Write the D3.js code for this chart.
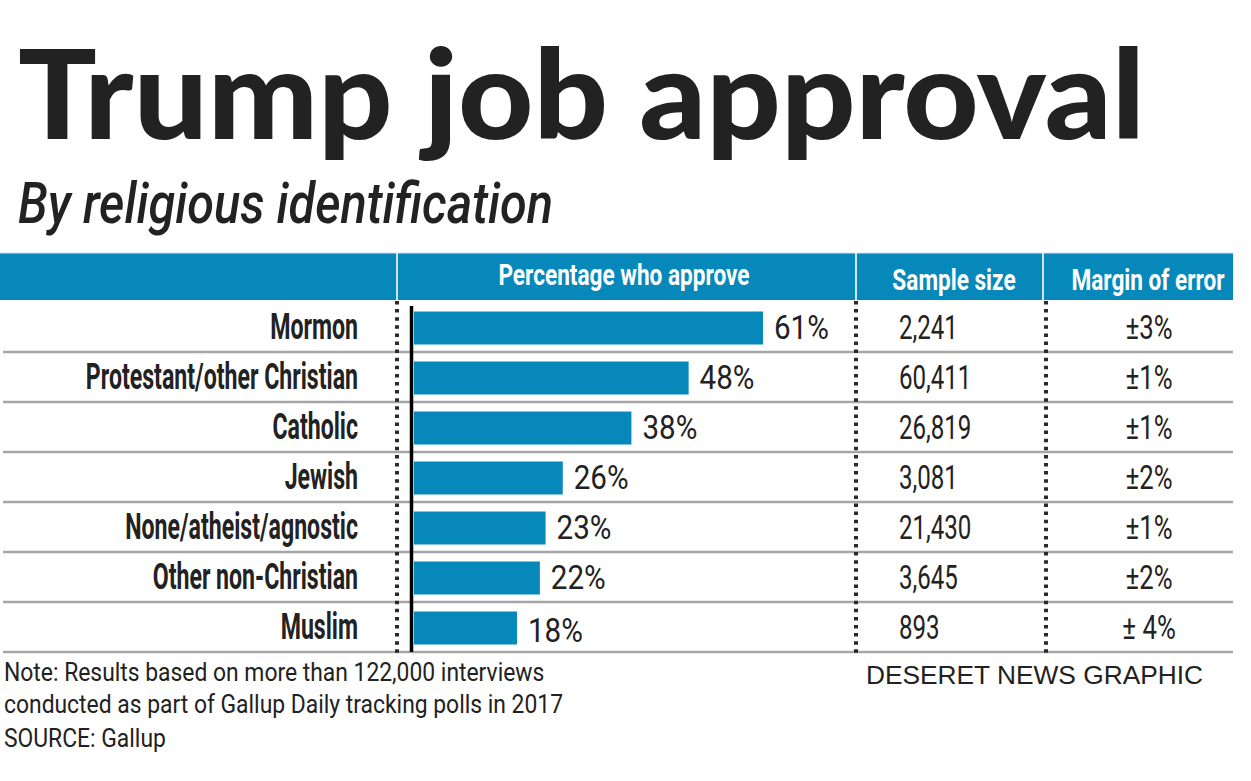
<!DOCTYPE html>
<html><head><meta charset="utf-8">
<script src="https://cdn.jsdelivr.net/npm/d3@7"></script>
<style>body{margin:0;background:#fff}svg{display:block}</style>
</head><body>
<svg id="c" width="1251" height="781"></svg>
<script>
const categories = ["Mormon","Protestant/other Christian","Catholic","Jewish","None/atheist/agnostic","Other non-Christian","Muslim"];
const approve = [61,48,38,26,23,22,18];
const sampleSize = ["2,241","60,411","26,819","3,081","21,430","3,645","893"];
const marginErr = ["±3%","±1%","±1%","±2%","±1%","±2%","± 4%"];
const headers = ["Percentage who approve","Sample size","Margin of error"];
const title = "Trump job approval";
const subtitle = "By religious identification";
const notes = ["Note: Results based on more than 122,000 interviews","conducted as part of Gallup Daily tracking polls in 2017","SOURCE: Gallup"];
const credit = "DESERET NEWS GRAPHIC";

const BLUE="#0688bb", INK="#222";
const svg=d3.select("#c");
const COND="Roboto, 'Liberation Sans', sans-serif";

function condense(sel, sx){
  sel.each(function(){
    const t=d3.select(this);
    const x=+t.attr("x"), y=+t.attr("y");
    t.attr("x",0).attr("y",0).attr("transform",`translate(${x},${y}) scale(${sx},1)`);
  });
}

// title
svg.append("text").attr("x",18).attr("y",139).attr("font-family","Lato, 'Open Sans', sans-serif")
  .attr("font-weight",900).attr("font-size",124).attr("fill",INK)
  .attr("textLength",1127).attr("lengthAdjust","spacingAndGlyphs").text(title);
svg.append("text").attr("x",18).attr("y",223).attr("font-family",COND)
  .attr("font-style","italic").attr("font-weight",500).attr("font-size",57).attr("fill",INK)
  .attr("textLength",535).attr("lengthAdjust","spacingAndGlyphs").text(subtitle);

// columns
const colX=[0,397,856,1044,1233];
const headTop=253, headBot=300;
svg.append("rect").attr("x",colX[0]).attr("y",headTop).attr("width",colX[4]-colX[0]).attr("height",headBot-headTop).attr("fill",BLUE);
svg.selectAll("line.hsep").data([colX[1],colX[2],colX[3]-1]).join("line").attr("class","hsep")
  .attr("x1",d=>d).attr("x2",d=>d).attr("y1",headTop).attr("y2",headBot).attr("stroke","#cfe6f0").attr("stroke-width",2);
svg.append("line").attr("x1",0).attr("x2",colX[4]).attr("y1",headTop).attr("y2",headTop).attr("stroke","#cfe6f0").attr("stroke-width",1);

const headCx=[624,954,1148];
const ht=svg.selectAll("text.head").data(headers).join("text").attr("class","head")
  .attr("x",(d,i)=>headCx[i]).attr("y",(d,i)=>i===0?285:290)
  .attr("text-anchor","middle").attr("font-family",COND).attr("font-weight",700)
  .attr("font-size",29).attr("fill","#fff").text(d=>d);
condense(ht,0.78);

// rows
const y=d3.scaleBand().domain(categories).range([302,652]).paddingInner(0).paddingOuter(0);
const rowH=y.bandwidth();
const x=d3.scaleLinear().domain([0,61]).range([414,763]);

svg.selectAll("line.row").data(categories).join("line").attr("class","row")
  .attr("x1",3).attr("x2",colX[4]).attr("y1",d=>y(d)+rowH).attr("y2",d=>y(d)+rowH)
  .attr("stroke","#a6a6a6").attr("stroke-width",2.5);

svg.selectAll("line.dot").data([colX[1],colX[2],colX[3]+2]).join("line").attr("class","dot")
  .attr("x1",d=>d).attr("x2",d=>d).attr("y1",headBot+1).attr("y2",655)
  .attr("stroke","#2a2a2a").attr("stroke-width",4).attr("stroke-dasharray","3.5,4.6");

const barH=33, barOff=9.5;
svg.selectAll("rect.bar").data(approve).join("rect").attr("class","bar")
  .attr("x",x(0)).attr("y",(d,i)=>y(categories[i])+barOff)
  .attr("width",d=>x(d)-x(0)).attr("height",barH).attr("fill",BLUE);

svg.append("line").attr("x1",411.5).attr("x2",411.5).attr("y1",306).attr("y2",652)
  .attr("stroke","#000").attr("stroke-width",3.5);

const lab=svg.selectAll("text.lab").data(categories).join("text").attr("class","lab")
  .attr("x",358).attr("y",d=>y(d)+37).attr("text-anchor","end")
  .attr("font-family",COND).attr("font-weight",700).attr("font-size",37).attr("fill",INK).text(d=>d);
condense(lab,0.625);

const val=svg.selectAll("text.val").data(approve).join("text").attr("class","val")
  .attr("x",d=>x(d)+11).attr("y",(d,i)=>y(categories[i])+37+ (i==6?3:0))
  .attr("font-family",COND).attr("font-size",34).attr("fill",INK).text(d=>d+"%");
condense(val,0.87);

const ss=svg.selectAll("text.ss").data(sampleSize).join("text").attr("class","ss")
  .attr("x",899).attr("y",(d,i)=>y(categories[i])+37)
  .attr("font-family",COND).attr("font-size",33).attr("fill",INK).text(d=>d);
condense(ss,0.73);

const me=svg.selectAll("text.me").data(marginErr).join("text").attr("class","me")
  .attr("x",1149).attr("y",(d,i)=>y(categories[i])+37).attr("text-anchor","middle")
  .attr("font-family",COND).attr("font-size",33).attr("fill",INK).text(d=>d);
condense(me,0.78);

const nt=svg.selectAll("text.note").data(notes).join("text").attr("class","note")
  .attr("x",4).attr("y",(d,i)=>[681,713,747][i])
  .attr("font-family",COND).attr("font-size",26).attr("fill",INK).text(d=>d);
condense(nt,0.88);

svg.append("text").attr("x",866).attr("y",684).attr("font-family","'Liberation Sans', Arial, sans-serif")
  .attr("font-size",25).attr("fill",INK).attr("textLength",337).attr("lengthAdjust","spacingAndGlyphs").text(credit);
</script>
</body></html>
